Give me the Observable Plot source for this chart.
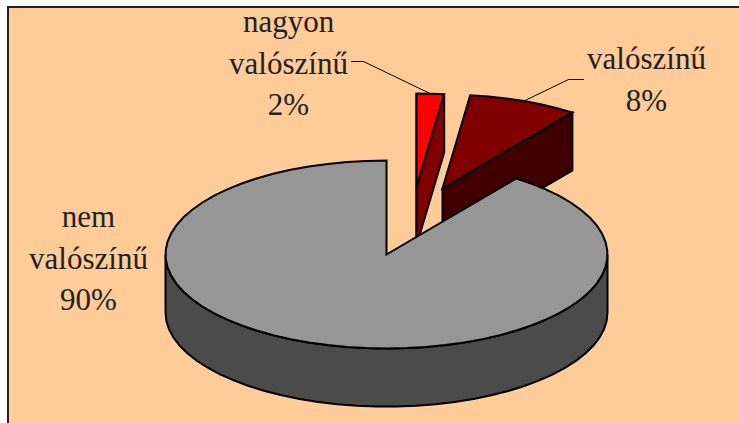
<!DOCTYPE html>
<html>
<head>
<meta charset="utf-8">
<script src="https://cdn.jsdelivr.net/npm/d3@7"></script>
<script src="https://cdn.jsdelivr.net/npm/@observablehq/plot@0.6"></script>
<style>html,body{margin:0;padding:0;background:#fff}svg{display:block}</style>
</head>
<body>
<div id="chart"></div>
<script>
// Data
const categories = ["nagyon valószínű", "valószínű", "nem valószínű"];
const shares = [2, 8, 90];
const labelLines = [["nagyon", "valószínű", "2%"], ["valószínű", "8%"], ["nem", "valószínű", "90%"]];
const topColors = ["#ff0000", "#800000", "#969696"];
const wallColors = ["#800000", "#400000", "#4b4b4b"];

// Layout (chart pixels)
const W = 739, H = 423;
const cx = 386, cy = 254, rx = 221, ry = 94, depth = 58;
const explode = [[30, -67], [56, -66], [0, 0]];
const labelAnchors = [[288, 22], [646, 59], [88, 217]];
const lineGap = 41.5;
const leaderStart = [[[351, 61], [363, 61]], [[583, 79], [568, 79]], null];
const bgFill = "#ffcc99";

// Slice angles from the shares, clockwise from the top of the pie
let run = 0;
const slices = shares.map((s, i) => {
  const a0 = run / 100 * 2 * Math.PI;
  run += s;
  return {i, a0, a1: run / 100 * 2 * Math.PI, dx: explode[i][0], dy: explode[i][1]};
});
const rim = (s, a, drop = 0) => [cx + s.dx + rx * Math.sin(a), cy + s.dy + drop - ry * Math.cos(a)];
const apex = (s, drop = 0) => [cx + s.dx, cy + s.dy + drop];
const arc = (s, a0, a1, drop = 0) => {
  const n = Math.max(2, Math.ceil(Math.abs(a1 - a0) / 0.09));
  return d3.range(n + 1).map(k => rim(s, a0 + (a1 - a0) * k / n, drop));
};
const shape = (pts, fill, closed = true) => Plot.line(pts, {
  x: d => d[0], y: d => d[1], fill, stroke: "#000", strokeWidth: closed ? 2 : 1,
  strokeLinejoin: "miter", strokeMiterlimit: 4,
  curve: closed ? "linear-closed" : "linear"
});

const [small, mid, big] = slices;
const wallOf = s => [apex(s), rim(s, s.a1), rim(s, s.a1, depth), apex(s, depth)];
const topOf = s => [apex(s), ...arc(s, s.a0, s.a1)];

// Grey wall: the front half of the rim, extruded
const bigWall = [...arc(big, Math.PI / 2, 3 * Math.PI / 2), ...arc(big, 3 * Math.PI / 2, Math.PI / 2, depth)];

const leaders = [small, mid].map(s => {
  const am = (s.a0 + s.a1) / 2;
  return [...leaderStart[s.i], rim(s, am)];
});

const labels = labelLines.flatMap((lines, i) => lines.map((t, k) => ({
  t, x: labelAnchors[i][0], y: labelAnchors[i][1] + k * lineGap
})));

const plot = Plot.plot({
  width: W, height: H,
  margin: 0,
  x: {domain: [0, W], range: [0, W], axis: null},
  y: {domain: [0, H], range: [0, H], axis: null},
  style: {background: "#fff", overflow: "hidden"},
  marks: [
    Plot.rect([0], {x1: 8, x2: W + 4, y1: 7, y2: H + 4, fill: bgFill, stroke: "#222", strokeWidth: 2}),
    shape(wallOf(mid), wallColors[1]),
    shape(topOf(mid), topColors[1]),
    shape([apex(small), rim(small, small.a0), rim(small, small.a0, depth), apex(small, depth)], topColors[0]),
    shape(topOf(small), topColors[0]),
    shape(wallOf(small), wallColors[0]),
    shape(bigWall, wallColors[2]),
    shape(topOf(big), topColors[2]),
    ...leaders.map(l => shape(l, "none", false)),
    Plot.text(labels, {
      x: "x", y: "y", text: "t", fontSize: 31, fill: "#222",
      fontFamily: "Liberation Serif", textAnchor: "middle", lineAnchor: "middle"
    })
  ]
});
document.getElementById("chart").append(plot);
</script>
</body>
</html>
